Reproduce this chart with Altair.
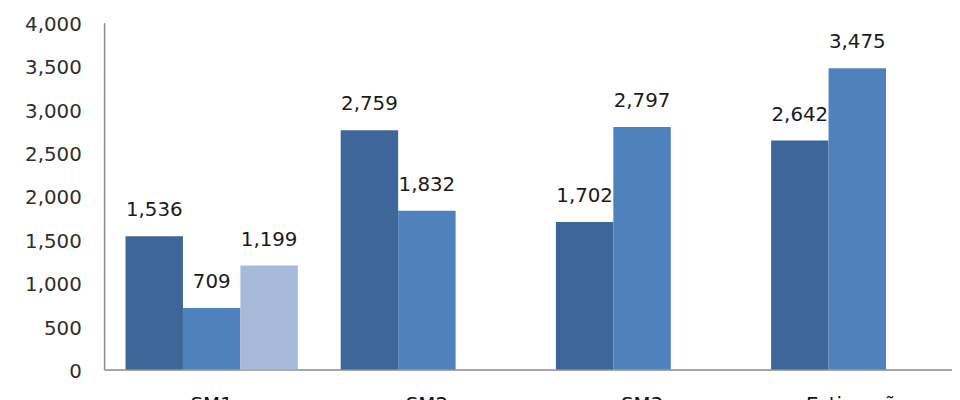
import altair as alt
import pandas as pd

categories = ["SM1", "SM2", "SM3", "Estimação"]
series = ["Série 1", "Série 2", "Série 3"]
values_s1 = [1536, 2759, 1702, 2642]
values_s2 = [709, 1832, 2797, 3475]
values_s3 = [1199, None, None, None]
colors = ["#3f6699", "#4f81bd", "#a7b9d9"]
y_ticks = [0, 500, 1000, 1500, 2000, 2500, 3000, 3500, 4000]

rows = []
for i, c in enumerate(categories):
    for s, vals in zip(series, [values_s1, values_s2, values_s3]):
        if vals[i] is not None:
            rows.append({"cat": c, "series": s, "value": vals[i]})
df = pd.DataFrame(rows)

FONT = "DejaVu Sans"

base = alt.Chart(df).encode(
    x=alt.X(
        "cat:N",
        sort=categories,
        scale=alt.Scale(range=[0, 869], paddingInner=0, paddingOuter=0),
        axis=alt.Axis(
            title=None, labelAngle=0, ticks=False, domainColor="#8a8a8a",
            domainWidth=1.5, labelPadding=25, labelFontSize=20, labelFont=FONT,
            labelColor="#111111",
        ),
    ),
    xOffset=alt.XOffset(
        "series:N",
        sort=series,
        scale=alt.Scale(domain=series, paddingInner=0, paddingOuter=0.373),
    ),
    y=alt.Y(
        "value:Q",
        scale=alt.Scale(domain=[0, 4000], nice=False),
        axis=alt.Axis(
            title=None, values=y_ticks, format=",.0f", grid=False, ticks=False,
            domainColor="#8a8a8a", domainWidth=1.5, labelPadding=23,
            labelFontSize=20, labelFont=FONT, labelColor="#2e2e2e",
            labelFlush=False, labelOverlap=False, labelBaseline="middle", labelOffset=2,
        ),
    ),
)

bars = base.mark_bar().encode(
    color=alt.Color("series:N", scale=alt.Scale(domain=series, range=colors), legend=None)
)

labels = base.mark_text(
    dy=-20, baseline="alphabetic", fontSize=20, font=FONT, color="#1a1a1a"
).encode(text=alt.Text("value:Q", format=",.0f"))

chart = (
    alt.layer(bars, labels)
    .properties(
        width=856,
        height=350,
        padding={"left": 97, "top": 13, "right": 0, "bottom": 29},
        autosize=alt.AutoSizeParams(type="none"),
        background="white",
    )
    .configure_view(stroke=None)
)

chart.save("out.html", embed_options={"renderer": "svg", "actions": False})
